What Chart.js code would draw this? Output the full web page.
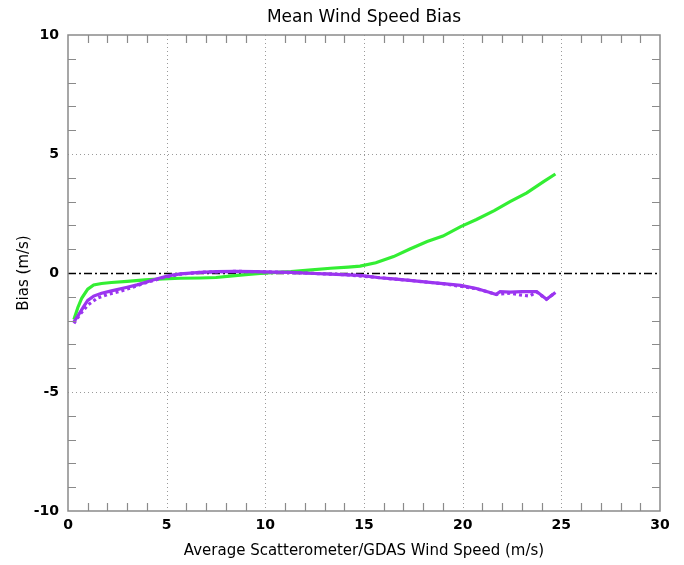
<!DOCTYPE html>
<html>
<head>
<meta charset="utf-8">
<script src="https://cdn.jsdelivr.net/npm/chart.js@4"></script>
<style>
  html, body { margin: 0; padding: 0; background: #fff; }
  #wrap { width: 684px; height: 565px; position: relative; }
</style>
</head>
<body>
<div id="wrap"><canvas id="c" width="684" height="565"></canvas></div>
<script>
// Mean wind speed bias versus average scatterometer/GDAS wind speed
const titleText = 'Mean Wind Speed Bias';
const xTitle = 'Average Scatterometer/GDAS Wind Speed (m/s)';
const yTitle = 'Bias (m/s)';

// green curve
const greenX = [0.3, 0.5, 0.7, 1.0, 1.3, 1.7, 2.2, 3.0, 3.9, 4.8, 5.7, 6.7, 7.5, 8.2, 9.0, 9.9, 10.8, 11.3, 12.2, 13.3, 14.2, 14.8, 15.6, 16.5, 17.3, 18.2, 19.0, 19.9, 20.7, 21.6, 22.4, 23.25, 24.1, 24.7];
const greenY = [-1.95, -1.45, -1.05, -0.68, -0.5, -0.44, -0.40, -0.35, -0.29, -0.25, -0.22, -0.21, -0.19, -0.13, -0.07, -0.01, 0.04, 0.06, 0.12, 0.2, 0.25, 0.29, 0.43, 0.69, 1.0, 1.32, 1.55, 1.95, 2.25, 2.62, 3.0, 3.37, 3.84, 4.16];

// purple curve, solid
const purpleX = [0.3, 0.5, 0.8, 1.0, 1.3, 1.7, 2.2, 3.0, 3.5, 3.9, 4.4, 4.8, 5.2, 5.7, 6.7, 7.5, 8.5, 9.5, 10.5, 11.3, 12.2, 13.3, 14.2, 14.8, 15.8, 16.5, 17.3, 18.2, 19.0, 19.9, 20.7, 21.3, 21.7, 21.9, 22.4, 23.0, 23.75, 24.25, 24.7];
const purpleY = [-2.05, -1.8, -1.4, -1.15, -0.97, -0.85, -0.75, -0.6, -0.5, -0.4, -0.27, -0.18, -0.1, -0.04, 0.03, 0.06, 0.07, 0.06, 0.04, 0.03, -0.01, -0.05, -0.08, -0.1, -0.2, -0.25, -0.31, -0.38, -0.45, -0.52, -0.65, -0.8, -0.9, -0.78, -0.8, -0.78, -0.78, -1.1, -0.82];

// purple curve, dotted
const purpleDotX = [0.3, 0.6, 1.0, 1.5, 2.0, 2.6, 3.2, 3.9, 4.8, 5.7, 6.7, 8.5, 10.5, 12.2, 14.2, 15.8, 17.3, 19.0, 20.7, 21.7, 22.4, 22.9, 23.4, 23.75, 24.25, 24.7];
const purpleDotY = [-2.12, -1.75, -1.35, -1.05, -0.9, -0.78, -0.62, -0.42, -0.2, -0.05, 0.03, 0.07, 0.04, -0.01, -0.08, -0.2, -0.31, -0.45, -0.66, -0.9, -0.85, -0.92, -0.97, -0.8, -1.1, -0.82];

const xTicks = [0, 5, 10, 15, 20, 25, 30];
const yTicks = [-10, -5, 0, 5, 10];

const pts = (xs, ys) => xs.map((x, i) => ({ x: x, y: ys[i] }));

const GREEN = '#33ee33';
const PURPLE = '#9b35f0';
const FRAME = '#8a8a8a';
const FONT = 'DejaVu Sans';

// frame, dotted grid, minor ticks, zero line and titles
const decor = {
  id: 'decor',
  beforeDatasetsDraw(chart) {
    const { ctx, chartArea: a, scales: { x, y } } = chart;
    ctx.save();
    ctx.strokeStyle = '#9a9a9a';
    ctx.lineWidth = 1;
    ctx.setLineDash([1, 3]);
    xTicks.forEach(v => {
      if (v <= x.min || v >= x.max) return;
      const px = Math.round(x.getPixelForValue(v)) + 0.5;
      ctx.beginPath(); ctx.moveTo(px, a.top); ctx.lineTo(px, a.bottom); ctx.stroke();
    });
    yTicks.forEach(v => {
      if (v <= y.min || v >= y.max || v === 0) return;
      const py = Math.round(y.getPixelForValue(v)) + 0.5;
      ctx.beginPath(); ctx.moveTo(a.left, py); ctx.lineTo(a.right, py); ctx.stroke();
    });
    // zero reference line, dash-dot
    ctx.strokeStyle = '#000';
    ctx.lineWidth = 1.5;
    ctx.setLineDash([8, 3, 2, 3]);
    const y0 = Math.round(y.getPixelForValue(0)) + 0.5;
    ctx.beginPath(); ctx.moveTo(a.left, y0); ctx.lineTo(a.right, y0); ctx.stroke();
    ctx.restore();
  },
  afterDatasetsDraw(chart) {
    const { ctx, chartArea: a, scales: { x, y } } = chart;
    ctx.save();
    ctx.setLineDash([]);
    ctx.strokeStyle = FRAME;
    ctx.lineWidth = 1.5;
    ctx.strokeRect(a.left, a.top, a.right - a.left, a.bottom - a.top);
    const len = 8;
    ctx.lineWidth = 1.2;
    for (let v = x.min + 1; v < x.max; v++) {
      if (v % 5 === 0) continue;
      const px = Math.round(x.getPixelForValue(v)) + 0.5;
      ctx.beginPath();
      ctx.moveTo(px, a.top); ctx.lineTo(px, a.top + len);
      ctx.moveTo(px, a.bottom); ctx.lineTo(px, a.bottom - len);
      ctx.stroke();
    }
    for (let v = y.min + 1; v < y.max; v++) {
      if (v % 5 === 0) continue;
      const py = Math.round(y.getPixelForValue(v)) + 0.5;
      ctx.beginPath();
      ctx.moveTo(a.left, py); ctx.lineTo(a.left + len, py);
      ctx.moveTo(a.right, py); ctx.lineTo(a.right - len, py);
      ctx.stroke();
    }
    ctx.restore();
  },
  afterDraw(chart) {
    const { ctx, chartArea: a } = chart;
    const cx = (a.left + a.right) / 2;
    ctx.save();
    ctx.fillStyle = '#000';
    ctx.textAlign = 'center';
    ctx.textBaseline = 'middle';
    ctx.font = '17px "' + FONT + '"';
    ctx.fillText(titleText, cx, 18);
    ctx.font = '15px "' + FONT + '"';
    ctx.fillText(xTitle, cx, 551);
    ctx.translate(24, (a.top + a.bottom) / 2);
    ctx.rotate(-Math.PI / 2);
    ctx.fillText(yTitle, 0, 0);
    ctx.restore();
  }
};

const lineDs = (label, data, color, dash) => ({
  label, data,
  borderColor: color,
  backgroundColor: color,
  borderWidth: 3.2,
  borderDash: dash || [],
  pointRadius: 0,
  showLine: true,
  tension: 0,
  fill: false
});

new Chart(document.getElementById('c'), {
  type: 'scatter',
  data: {
    datasets: [
      lineDs('Purple (dotted)', pts(purpleDotX, purpleDotY), PURPLE, [3, 3]),
      lineDs('Purple', pts(purpleX, purpleY), PURPLE),
      lineDs('Green', pts(greenX, greenY), GREEN)
    ]
  },
  options: {
    responsive: false,
    animation: false,
    events: [],
    layout: { padding: { left: 0, right: 24, top: 35, bottom: 0 } },
    plugins: { legend: { display: false }, tooltip: { enabled: false }, title: { display: false } },
    scales: {
      x: {
        type: 'linear', min: 0, max: 30,
        afterBuildTicks: s => { s.ticks = xTicks.map(v => ({ value: v })); },
        afterFit: s => { s.height = 54; },
        grid: { display: false, drawTicks: false, tickLength: 0 },
        border: { display: false },
        ticks: { padding: 6, color: '#000', font: { family: FONT, size: 14, weight: 'bold' }, maxRotation: 0, autoSkip: false }
      },
      y: {
        type: 'linear', min: -10, max: 10,
        afterBuildTicks: s => { s.ticks = yTicks.map(v => ({ value: v })); },
        afterFit: s => { s.width = 68; },
        grid: { display: false, drawTicks: false, tickLength: 0 },
        border: { display: false },
        ticks: { padding: 9, color: '#000', font: { family: FONT, size: 14, weight: 'bold' }, autoSkip: false }
      }
    }
  },
  plugins: [decor]
});
</script>
</body>
</html>
